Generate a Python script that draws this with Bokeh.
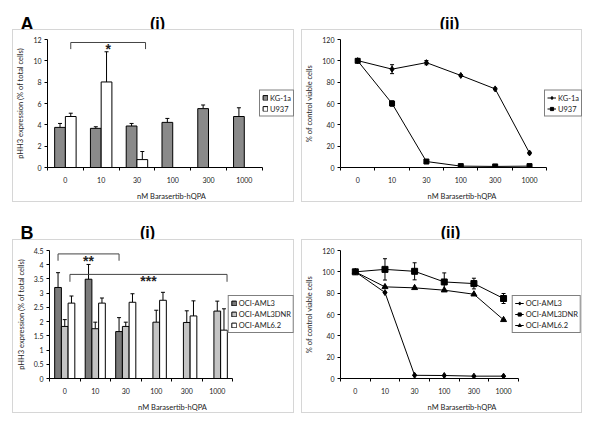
from bokeh.plotting import figure
from bokeh.models import (Range1d, LinearAxis, FixedTicker,
                          ColumnDataSource, Whisker, TeeHead, Label, Spacer)
from bokeh.layouts import column, row
from bokeh.transform import dodge
from bokeh.core.properties import value
from bokeh.embed import file_html
from bokeh.resources import INLINE

# ---------------- data ----------------
doses = ["0", "10", "30", "100", "300", "1000"]
x_title = "nM Barasertib-hQPA"

# Panel A(i): pHH3 expression (% of total cells)
a1_kg1a = [3.76, 3.67, 3.89, 4.23, 5.52, 4.78]
a1_kg1a_err = [0.37, 0.15, 0.24, 0.37, 0.34, 0.82]
a1_u937 = [4.78, 8.02, 0.74, None, None, None]
a1_u937_err = [0.31, 2.83, 0.76, None, None, None]
a1_yticks = [0, 2, 4, 6, 8, 10, 12]
a1_brackets = [("0", 0.15, "30", 0.24, 11.72, 11.1, "*")]

# Panel A(ii): % of control viable cells
a2_kg1a = [100.2, 92.2, 98.3, 86.3, 73.7, 13.6]
a2_kg1a_err = [1.5, 4.2, 2.0, 0.8, 0.8, 0.8]
a2_u937 = [100.0, 60.0, 5.6, 1.3, 1.0, 1.3]
a2_u937_err = [1.5, 2.5, 0.5, 0.5, 0.5, 0.5]
a2_yticks = [0, 20, 40, 60, 80, 100, 120]

# Panel B(i)
b1_aml3 = [3.20, 3.49, 1.65, None, None, None]
b1_aml3_err = [0.52, 0.52, 0.49, None, None, None]
b1_dnr = [1.83, 1.75, 1.83, 1.98, 1.97, 2.37]
b1_dnr_err = [0.24, 0.23, 0.15, 0.42, 0.41, 0.35]
b1_aml62 = [2.65, 2.65, 2.68, 2.75, 2.20, 1.70]
b1_aml62_err = [0.25, 0.18, 0.30, 0.28, 0.53, 0.75]
b1_yticks = [0, 0.5, 1, 1.5, 2, 2.5, 3, 3.5, 4, 4.5]
b1_brackets = [("0", -0.22, "30", -0.22, 4.38, 4.14, "**"),
               ("0", 0.17, "1000", 0.32, 3.66, 3.40, "***")]

# Panel B(ii)
b2_aml3 = [100.0, 80.6, 3.0, 2.8, 2.2, 2.2]
b2_dnr = [100.0, 102.3, 100.5, 90.5, 89.0, 75.0]
b2_dnr_err = [0.0, 10.0, 8.0, 8.5, 5.0, 4.7]
b2_aml62 = [100.0, 85.9, 85.0, 82.8, 79.0, 55.0]
b2_yticks = [0, 20, 40, 60, 80, 100, 120]

FONT = "Lato"
HEAD_FONT = "Liberation Sans"
TXT = "#222222"
FRAME_CSS = {"border": "1px solid #d6d6d6"}

# category centres on a numeric axis (one unit per dose)
centres = [i + 0.5 for i in range(len(doses))]
edges = list(range(len(doses) + 1))


def fmt(t):
    return ("%g" % t)


def base_fig(w, h, ml, mt, mb, axis_px, ymax, yticks, ylabel):
    # the frame runs to the right edge of the canvas (room for the legend);
    # the axis itself only spans axis_px pixels
    frame_w = w - ml
    xmax = len(doses) * frame_w / axis_px
    p = figure(width=w, height=h, x_range=Range1d(0, xmax),
               y_range=Range1d(0, ymax), x_axis_location=None,
               toolbar_location=None, output_backend="svg",
               min_border_left=ml, min_border_right=0, min_border_top=mt, min_border_bottom=mb,
               background_fill_color="white", border_fill_color="white",
               outline_line_color=None)
    p.grid.visible = False
    xa = LinearAxis(ticker=FixedTicker(ticks=centres, minor_ticks=edges),
                    bounds=(0, len(doses)),
                    major_label_overrides={c: d for c, d in zip(centres, doses)},
                    axis_line_color="black", major_tick_line_color=None,
                    major_tick_in=0, major_tick_out=0,
                    minor_tick_line_color="black", minor_tick_in=0, minor_tick_out=3,
                    major_label_text_font_size="7px", major_label_text_font=FONT,
                    major_label_text_color=TXT, major_label_standoff=6,
                    axis_label=x_title, axis_label_text_font=FONT,
                    axis_label_text_font_size="7.5px",
                    axis_label_text_font_style="normal",
                    axis_label_text_color=TXT, axis_label_standoff=6)
    p.add_layout(xa, "below")
    ya = p.yaxis[0]
    ya.ticker = FixedTicker(ticks=yticks)
    ya.major_label_overrides = {t: fmt(t) for t in yticks}
    ya.major_tick_in = 0
    ya.major_tick_out = 3
    ya.minor_tick_line_color = None
    ya.axis_line_color = "black"
    ya.major_tick_line_color = "black"
    ya.major_label_text_font = FONT
    ya.major_label_text_font_size = "7px"
    ya.major_label_text_color = TXT
    ya.major_label_standoff = 3
    ya.axis_label = ylabel
    ya.axis_label_text_font = FONT
    ya.axis_label_text_font_size = "7.5px"
    ya.axis_label_text_font_style = "normal"
    ya.axis_label_text_color = TXT
    ya.axis_label_standoff = 5
    p.styles = FRAME_CSS
    return p


def style_legend(p, gap, row_h, gw, gh):
    lg = p.legend[0]
    lg.location = "center_right"
    lg.margin = gap
    lg.border_line_color = "black"
    lg.border_line_width = 1
    lg.background_fill_color = "white"
    lg.background_fill_alpha = 1
    lg.padding = 2
    lg.spacing = 1
    lg.label_standoff = 2
    lg.label_height = row_h
    lg.glyph_width = gw
    lg.glyph_height = gh
    lg.label_text_font = FONT
    lg.label_text_font_size = "7.5px"
    lg.label_text_color = TXT
    lg.label_text_baseline = "middle"


def add_bars(p, vals, errs, offset, width, color, label):
    keep = [i for i, v in enumerate(vals) if v is not None]
    src = ColumnDataSource(dict(xc=[centres[i] for i in keep],
                                top=[vals[i] for i in keep],
                                upper=[vals[i] + errs[i] for i in keep]))
    xs = dodge("xc", offset)
    p.add_layout(Whisker(base=xs, lower="top", upper="upper", source=src,
                         line_color="black", line_width=1, lower_head=None,
                         upper_head=TeeHead(size=4, line_color="black", line_width=1)))
    p.vbar(x=xs, top="top", bottom=0, width=width, source=src, fill_color=color,
           line_color="black", line_width=1, legend_label=label)


def add_brackets(p, brackets):
    for d0, o0, d1, o1, ytop, ybot, star in brackets:
        x0 = centres[doses.index(d0)] + o0
        x1 = centres[doses.index(d1)] + o1
        p.line(x=[x0, x0, x1, x1], y=[ybot, ytop, ytop, ybot],
               line_color="#444444", line_width=1)
        p.text(x=[(x0 + x1) / 2], y=[ytop], text=[star],
               text_align="center", text_baseline="top", y_offset=-1,
               text_font=value(HEAD_FONT), text_font_style="bold",
               text_font_size="14px", text_color="#222222")


def add_series(p, vals, errs, marker, size, label):
    src = ColumnDataSource(dict(xc=centres, v=vals,
                                lo=[v - e for v, e in zip(vals, errs)],
                                hi=[v + e for v, e in zip(vals, errs)]))
    p.add_layout(Whisker(base="xc", lower="lo", upper="hi", source=src,
                         line_color="black", line_width=1,
                         lower_head=TeeHead(size=4, line_color="black", line_width=1),
                         upper_head=TeeHead(size=4, line_color="black", line_width=1)))
    p.line(x="xc", y="v", source=src, line_color="black", line_width=1, legend_label=label)
    p.scatter(x="xc", y="v", source=src, marker=marker, size=size, fill_color="black",
              line_color="black", legend_label=label)


# ---------------- panel A(i) ----------------
pA1 = base_fig(282, 173, 29, 9, 34, 219, 12, a1_yticks, "pHH3 expression (% of total cells)")
add_bars(pA1, a1_kg1a, a1_kg1a_err, -0.15, 0.3, "#8a8a8a", "KG-1a")
add_bars(pA1, a1_u937, a1_u937_err, 0.15, 0.3, "white", "U937")
add_brackets(pA1, a1_brackets)
style_legend(pA1, 1, 10, 6, 6)

# ---------------- panel A(ii) ----------------
pA2 = base_fig(281, 173, 30, 9, 34, 213, 120, a2_yticks, "% of control viable cells")
add_series(pA2, a2_kg1a, a2_kg1a_err, "diamond", 6, "KG-1a")
add_series(pA2, a2_u937, a2_u937_err, "square", 5, "U937")
style_legend(pA2, 1, 10, 9, 8)

# ---------------- panel B(i) ----------------
pB1 = base_fig(282, 174, 32, 9, 35, 186, 4.5, b1_yticks, "pHH3 expression (% of total cells)")
add_bars(pB1, b1_aml3, b1_aml3_err, -0.22, 0.22, "#7a7a7a", "OCI-AML3")
add_bars(pB1, b1_dnr, b1_dnr_err, 0.0, 0.22, "#c4c4c4", "OCI-AML3DNR")
add_bars(pB1, b1_aml62, b1_aml62_err, 0.22, 0.22, "white", "OCI-AML6.2")
add_brackets(pB1, b1_brackets)
style_legend(pB1, 1, 10, 6, 6)

# ---------------- panel B(ii) ----------------
pB2 = base_fig(281, 174, 31, 10, 35, 183, 120, b2_yticks, "% of control viable cells")
add_series(pB2, b2_aml3, [0] * len(doses), "diamond", 6, "OCI-AML3")
add_series(pB2, b2_dnr, b2_dnr_err, "square", 6, "OCI-AML3DNR")
add_series(pB2, b2_aml62, [0] * len(doses), "triangle", 6, "OCI-AML6.2")
style_legend(pB2, 2, 10, 9, 8)


# ---------------- headers ----------------
def header(h, items):
    p = figure(width=592, height=h, x_range=Range1d(0, 592), y_range=Range1d(h, 0),
               min_border=0, toolbar_location=None, output_backend="svg",
               x_axis_location=None, y_axis_location=None, outline_line_color=None,
               background_fill_color="white", border_fill_color="white")
    p.grid.visible = False
    for x, y, t, size, align in items:
        p.add_layout(Label(x=x, y=y, text=t, text_font=HEAD_FONT, text_font_style="bold",
                           text_font_size=size, text_align=align, text_baseline="alphabetic",
                           text_color="black"))
    return p


headA = header(29, [(20, 23, "A", "18px", "left"), (157, 23, "(i)", "16px", "center"),
                    (449, 23, "(ii)", "16px", "center")])
headB = header(35, [(20, 28, "B", "18px", "left"), (147, 28, "(i)", "16px", "center"),
                    (450, 28, "(ii)", "16px", "center")])

layout = column(
    headA,
    row(Spacer(width=12, height=175), pA1, Spacer(width=7, height=175), pA2),
    headB,
    row(Spacer(width=12, height=176), pB1, Spacer(width=7, height=176), pB2),
)

open("out.html", "w").write(file_html(layout, INLINE))
